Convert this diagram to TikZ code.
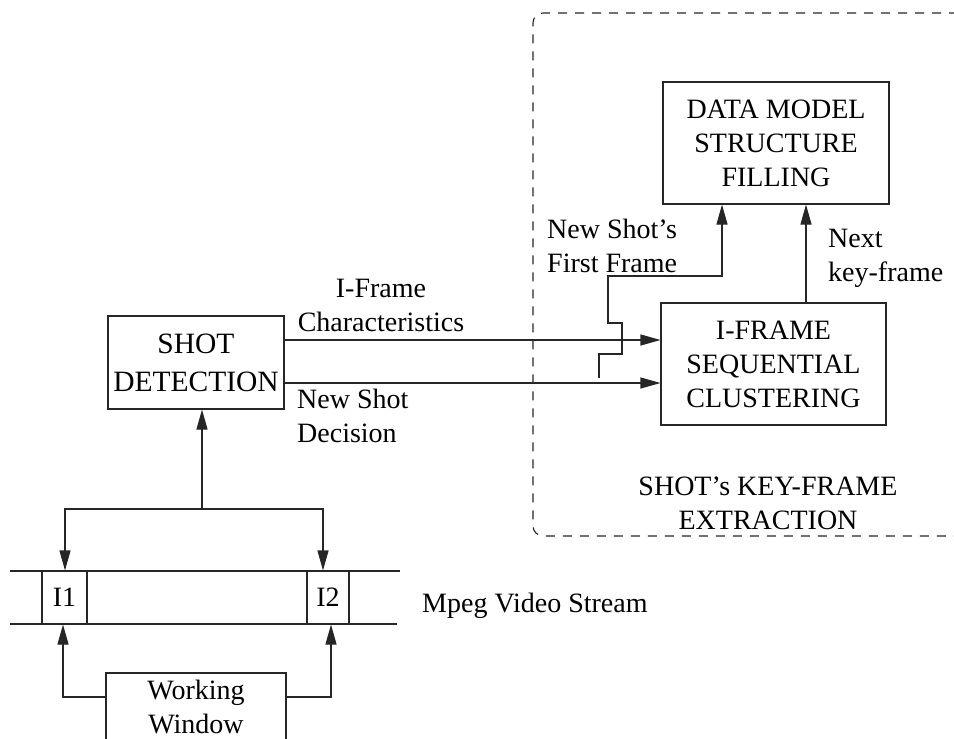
\documentclass[tikz,border=0pt]{standalone}
\usepackage{fontspec}
\setmainfont{Liberation Serif}
\usepackage{tikz}
\usetikzlibrary{positioning,arrows.meta}

\tikzset{
  blk/.style={draw=black!85, line width=1.1pt, align=center, inner sep=0pt},
  lbl/.style={inner sep=0pt},
  arr/.style={draw=black!85, line width=1.1pt, -{Triangle[length=20pt,width=11pt]}},
  ln/.style={draw=black!85, line width=1.1pt}
}

\begin{document}
\begin{tikzpicture}[x=1pt, y=-1pt, font=\fontsize{28}{34}\selectfont, node distance=99pt]
  \useasboundingbox (0,0) rectangle (954,739);
  \clip (0,0) rectangle (954,739);
  \draw[ln, dash pattern=on 9pt off 8pt, rounded corners=10pt] (975,13) -- (533,13) -- (533,536) -- (975,536);
  \node[blk, minimum width=226pt, minimum height=122pt] (model) at (776,143) {DATA MODEL\\STRUCTURE\\FILLING};
  \node[blk, minimum width=225pt, minimum height=122pt] (clust) at (773.5,364) {I-FRAME\\SEQUENTIAL\\CLUSTERING};
  \node[blk, minimum width=176pt, minimum height=93pt, font=\fontsize{29.5}{38}\selectfont] (shot) at (196,362.5) {SHOT\\DETECTION};
  \node[blk, minimum width=180pt, minimum height=68pt] (win) at (196,707) {Working\\Window};
  \draw[ln] (10,571) -- (400,571);
  \draw[ln] (10,624) -- (397,624);
  \node[blk, minimum width=45pt, minimum height=53pt] (i1) at (64.5,597.5) {I1};
  \node[blk, minimum width=42pt, minimum height=53pt] (i2) at (328,597.5) {I2};
  \node[lbl, anchor=north, align=center] (charlbl) at (381,279) {I-Frame\\Characteristics};
  \node[lbl, anchor=north west, align=left] (declbl) at (297,389) {New Shot\\Decision};
  \node[lbl, anchor=north west, align=left] (firstlbl) at (547,219) {New Shot's\\First Frame};
  \node[lbl, anchor=north west, align=left] (nextlbl) at (828,229) {Next\\key-frame};
  \node[lbl, anchor=base west] (mpeglbl) at (422,612) {Mpeg Video Stream};
  \node[lbl, anchor=north, align=center] (extlbl) at (768,477) {SHOT's KEY-FRAME\\EXTRACTION};
  \coordinate (y1) at (0,340);
  \coordinate (y2) at (0,383);
  \coordinate (tap) at (599,378);
  \coordinate (up) at (722,0);
  \coordinate (nx) at (806,0);
  \coordinate (split) at (202,509);
  \coordinate (dl) at (65,0);
  \coordinate (dr) at (323,0);
  \coordinate (wl) at (63,697);
  \coordinate (wr) at (331,697);
  \draw[arr] (shot.east |- y1) -- (clust.west |- y1);
  \draw[arr] (shot.east |- y2) -- (clust.west |- y2);
  \draw[arr] (tap) -- ++(0,-24) -- ++(23,0) -- ++(0,-31) -- ++(-14,0) -- ++(0,-47) -| (up |- model.south);
  \draw[arr] (clust.north -| nx) -- (model.south -| nx);
  \draw[arr] (split) -- (shot.south -| split);
  \draw[arr] (split) -| (dl |- i1.north);
  \draw[arr] (split) -| (dr |- i2.north);
  \draw[arr] (win.west |- wl) -| (wl |- i1.south);
  \draw[arr] (win.east |- wr) -| (wr |- i2.south);
\end{tikzpicture}
\end{document}
